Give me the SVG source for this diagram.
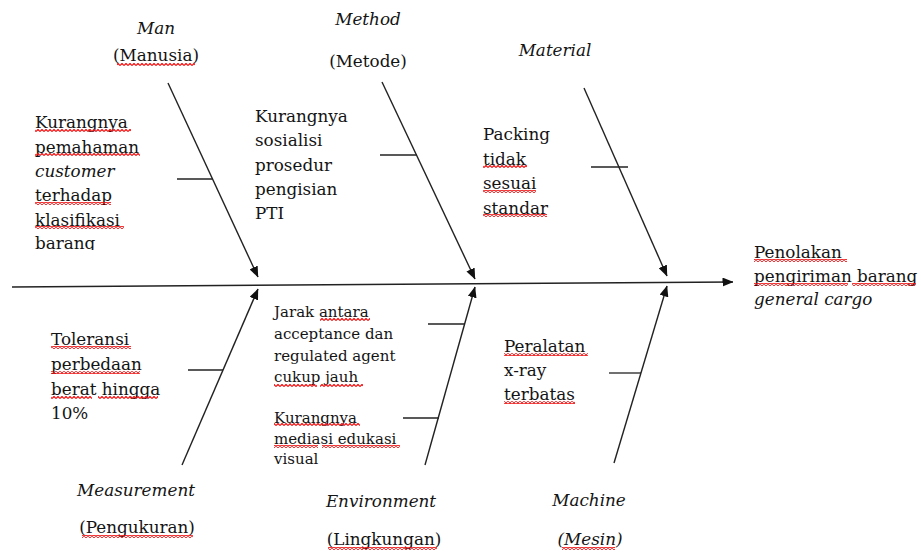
<svg xmlns="http://www.w3.org/2000/svg" width="921" height="552" viewBox="0 0 921 552">
<style>
.t{font-family:"DejaVu Serif","Liberation Serif",serif;font-size:16.8px;fill:#141414}
.s{font-size:15px}
.i{font-style:italic}
.c{text-anchor:middle}
.bone{stroke:#222;stroke-width:1.4;fill:none}
.tick{stroke:#222;stroke-width:1.3}
.wv{fill:url(#wave)}
</style>
<defs>
<marker id="ah" markerWidth="11" markerHeight="9" refX="10.5" refY="4.5" orient="auto" markerUnits="userSpaceOnUse">
<path d="M0,0 L11,4.5 L0,9 z" fill="#111"/>
</marker>
<pattern id="wave" width="4" height="3" patternUnits="userSpaceOnUse">
<path d="M0,2.6 L2,0.4 L4,2.6" stroke="#f01010" stroke-width="1.2" fill="none"/>
</pattern>
<clipPath id="clipL"><rect x="0" y="100" width="180" height="150"/></clipPath>
</defs>

<g id="connectors">
<line class="bone" x1="12" y1="287" x2="733" y2="282" marker-end="url(#ah)"/>
<line class="bone" x1="168" y1="83" x2="258" y2="277" marker-end="url(#ah)"/>
<line class="bone" x1="382" y1="82" x2="475" y2="279" marker-end="url(#ah)"/>
<line class="bone" x1="584" y1="88" x2="667" y2="276" marker-end="url(#ah)"/>
<line class="bone" x1="182" y1="465" x2="258" y2="289" marker-end="url(#ah)"/>
<line class="bone" x1="425" y1="465" x2="475" y2="287" marker-end="url(#ah)"/>
<line class="bone" x1="614" y1="463" x2="667" y2="286" marker-end="url(#ah)"/>
<line class="tick" x1="177" y1="179" x2="212.5" y2="179"/>
<line class="tick" x1="380" y1="155" x2="417" y2="155"/>
<line class="tick" x1="591" y1="167" x2="628" y2="167"/>
<line class="tick" x1="188" y1="370" x2="223" y2="370"/>
<line class="tick" x1="428" y1="324" x2="465" y2="324"/>
<line class="tick" x1="403" y1="418" x2="439" y2="418"/>
<line class="tick" x1="609" y1="373" x2="641" y2="373"/>
</g>

<g id="man">
<text class="t i c" x="156" y="34">Man</text>
<text class="t c" x="156" y="61">(Manusia)</text>
<rect class="wv" x="117" y="63" width="78" height="3"/>
</g>

<g id="method">
<text class="t i c" x="368" y="25">Method</text>
<text class="t c" x="368" y="67">(Metode)</text>
</g>

<g id="material">
<text class="t i c" x="555" y="56">Material</text>
</g>

<g id="cause-man">
<g clip-path="url(#clipL)">
<text class="t" x="35" y="128">Kurangnya</text>
<text class="t" x="35" y="152.5">pemahaman</text>
<text class="t i" x="35" y="177">customer</text>
<text class="t" x="35" y="201">terhadap</text>
<text class="t" x="35" y="225.5">klasifikasi</text>
<text class="t" x="35" y="249">barang</text>
</g>
<rect class="wv" x="35" y="129" width="96" height="3"/>
<rect class="wv" x="35" y="153" width="105" height="3"/>
<rect class="wv" x="35" y="202" width="76" height="3"/>
<rect class="wv" x="35" y="226" width="89" height="3"/>
</g>

<g id="cause-method">
<text class="t" x="255" y="121.5">Kurangnya</text>
<text class="t" x="255" y="146">sosialisi</text>
<text class="t" x="255" y="170.5">prosedur</text>
<text class="t" x="255" y="195">pengisian</text>
<text class="t" x="255" y="219">PTI</text>
</g>

<g id="cause-material">
<text class="t" x="483" y="140">Packing</text>
<text class="t" x="483" y="164.5">tidak</text>
<text class="t" x="483" y="189">sesuai</text>
<text class="t" x="483" y="213.5">standar</text>
<rect class="wv" x="483" y="165" width="44" height="3"/>
<rect class="wv" x="483" y="190" width="53" height="3"/>
<rect class="wv" x="483" y="214" width="64" height="3"/>
</g>

<g id="effect">
<text class="t" x="754" y="258">Penolakan</text>
<text class="t" x="754" y="282">pengiriman barang</text>
<text class="t i" x="754" y="305">general cargo</text>
<rect class="wv" x="754" y="259" width="93" height="3"/>
<rect class="wv" x="754" y="283" width="94" height="3"/>
<rect class="wv" x="852" y="283" width="64" height="3"/>
</g>

<g id="cause-measurement">
<text class="t" x="51" y="345">Toleransi</text>
<text class="t" x="51" y="370">perbedaan</text>
<text class="t" x="51" y="394.5">berat hingga</text>
<text class="t" x="51" y="419">10%</text>
<rect class="wv" x="51" y="346" width="80" height="3"/>
<rect class="wv" x="51" y="371" width="89" height="3"/>
<rect class="wv" x="51" y="396" width="41" height="3"/>
<rect class="wv" x="98" y="396" width="60" height="3"/>
</g>

<g id="cause-environment">
<text class="t s" x="274" y="316.5">Jarak antara</text>
<text class="t s" x="274" y="338.5">acceptance dan</text>
<text class="t s" x="274" y="361">regulated agent</text>
<text class="t s" x="274" y="382">cukup jauh</text>
<text class="t s" x="274" y="422.5">Kurangnya</text>
<text class="t s" x="274" y="443.5">mediasi edukasi</text>
<text class="t s" x="274" y="464">visual</text>
<rect class="wv" x="320" y="318" width="50" height="3"/>
<rect class="wv" x="274" y="384" width="43" height="3"/>
<rect class="wv" x="320" y="384" width="43" height="3"/>
<rect class="wv" x="274" y="423" width="86" height="3"/>
<rect class="wv" x="274" y="445" width="44" height="3"/>
<rect class="wv" x="322" y="445" width="78" height="3"/>
</g>

<g id="cause-machine">
<text class="t" x="504" y="352">Peralatan</text>
<text class="t" x="504" y="376">x-ray</text>
<text class="t" x="504" y="400">terbatas</text>
<rect class="wv" x="504" y="353" width="84" height="3"/>
<rect class="wv" x="504" y="401" width="71" height="3"/>
</g>

<g id="measurement">
<text class="t i c" x="136" y="496">Measurement</text>
<text class="t c" x="137" y="533">(Pengukuran)</text>
<rect class="wv" x="82" y="535" width="111" height="3"/>
</g>

<g id="environment">
<text class="t i c" x="381" y="507">Environment</text>
<text class="t c" x="384" y="545">(Lingkungan)</text>
<rect class="wv" x="328" y="547" width="109" height="3"/>
</g>

<g id="machine">
<text class="t i c" x="589" y="506">Machine</text>
<text class="t i c" x="590" y="545">(Mesin)</text>
<rect class="wv" x="562" y="547" width="53" height="3"/>
</g>
</svg>
